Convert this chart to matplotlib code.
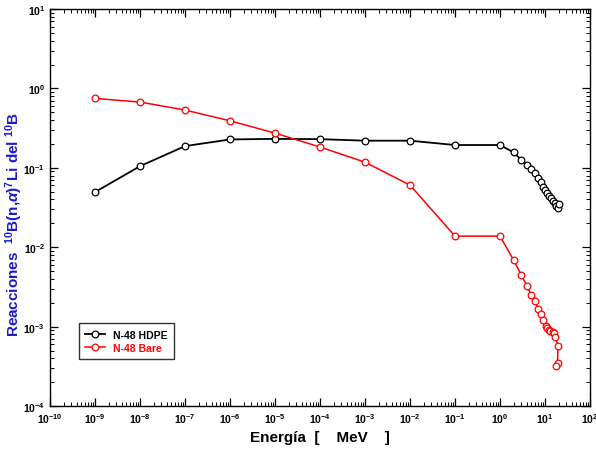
import numpy as np
import matplotlib
matplotlib.use("Agg")
import matplotlib.pyplot as plt
from matplotlib.ticker import LogLocator, NullFormatter

plt.rcParams.update({
    "font.family": ["Liberation Sans", "DejaVu Sans"],
    "font.weight": "bold",
    "mathtext.fontset": "custom",
    "mathtext.rm": "Liberation Sans:bold",
    "mathtext.it": "Liberation Sans:bold:italic",
    "mathtext.bf": "Liberation Sans:bold",
})

# N-48 HDPE
e_hdpe = [1e-9, 1e-8, 1e-7, 1e-6, 1e-5, 1e-4, 1e-3, 1e-2, 1e-1, 1e0,
          2, 3, 4, 5, 6, 7, 8, 9, 10, 11, 12, 13.5, 15, 16.5, 18, 19, 20]
r_hdpe = [0.0495, 0.105, 0.188, 0.228, 0.232, 0.23, 0.22, 0.22, 0.194, 0.194,
          0.157, 0.126, 0.109, 0.0966, 0.0853, 0.0744, 0.0657, 0.0578, 0.0525, 0.0482,
          0.0446, 0.0417, 0.0386, 0.036, 0.0335, 0.031, 0.035]

# N-48 Bare
e_bare = [1e-9, 1e-8, 1e-7, 1e-6, 1e-5, 1e-4, 1e-3, 1e-2, 1e-1, 1e0,
          2, 3, 4, 5, 6, 7, 8, 9, 10.3, 11, 12, 13, 14.7, 16, 17, 19.5, 19, 18]
r_bare = [0.75, 0.675, 0.535, 0.392, 0.274, 0.183, 0.118, 0.0607, 0.0138, 0.0138,
          0.0069, 0.00443, 0.00322, 0.00248, 0.0021, 0.00165, 0.00144, 0.00121, 0.00101, 0.00096,
          0.000914, 0.00087, 0.000847, 0.00083, 0.000733, 0.000575, 0.00035, 0.000323]

fig = plt.figure(figsize=(5.96, 4.52), dpi=100)
ax = fig.add_axes([0.0839, 0.0996, 0.906, 0.878])

ax.plot(e_hdpe, r_hdpe, color="black", lw=1.3, marker="o", ms=4.8,
        mfc="white", mec="black", mew=0.9, label="N-48 HDPE")
ax.plot(e_bare, r_bare, color="red", lw=1.1, marker="o", ms=4.8,
        mfc="white", mec="red", mew=0.9, label="N-48 Bare")

ax.set_xscale("log")
ax.set_yscale("log")
ax.set_xlim(1e-10, 1e2)
ax.set_ylim(1e-4, 1e1)

ax.xaxis.set_major_locator(LogLocator(base=10, numticks=20))
ax.xaxis.set_minor_locator(LogLocator(base=10, subs=np.arange(2, 10), numticks=200))
ax.xaxis.set_minor_formatter(NullFormatter())
ax.yaxis.set_major_locator(LogLocator(base=10, numticks=20))
ax.yaxis.set_minor_locator(LogLocator(base=10, subs=np.arange(2, 10), numticks=200))
ax.yaxis.set_minor_formatter(NullFormatter())

ax.tick_params(which="both", direction="in", top=True, right=True, labelsize=7.5)
ax.tick_params(which="major", length=6, width=0.9)
ax.tick_params(which="minor", length=3, width=0.7)
for s in ax.spines.values():
    s.set_linewidth(1.0)

ax.set_xlabel("Energía  [    MeV    ]", fontsize=11, fontweight="bold")
ax.set_ylabel(r"Reacciones  $^{10}$B(n,$\alpha$)$^{7}$Li del $^{10}$B",
              fontsize=11, fontweight="bold", color="#1a1acc")
ax.yaxis.set_label_coords(-0.047, 0.46)

leg = ax.legend(loc="lower left", bbox_to_anchor=(0.044, 0.105), fontsize=7.5,
                frameon=True, fancybox=False, edgecolor="black",
                handlelength=1.9, borderpad=0.6, labelspacing=0.3)
leg.get_frame().set_linewidth(1.0)
for t, c in zip(leg.get_texts(), ["black", "red"]):
    t.set_color(c)
    t.set_fontweight("bold")

fig.savefig("out.png", dpi=100)
